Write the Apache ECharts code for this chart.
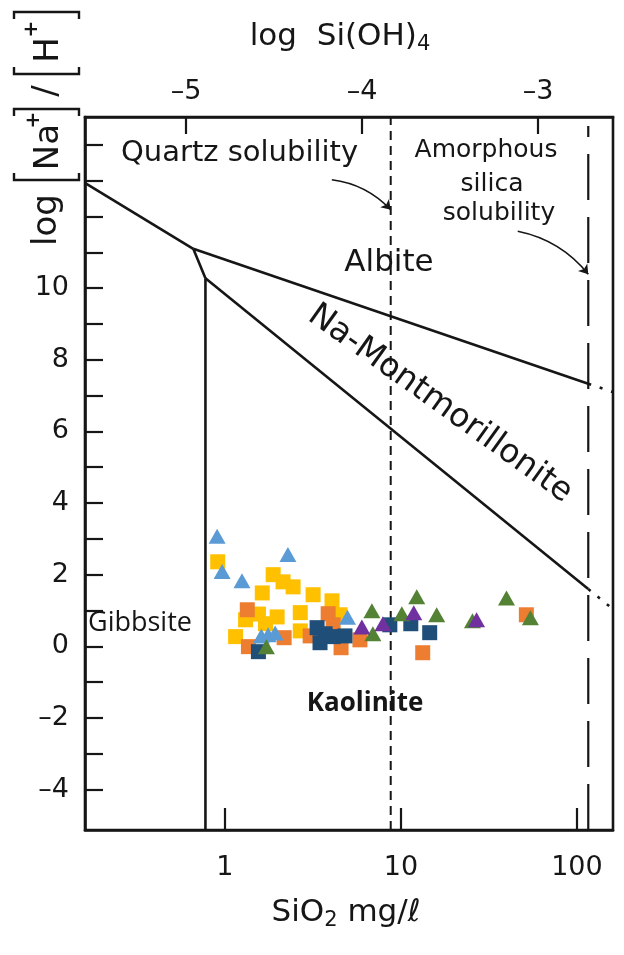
<!DOCTYPE html>
<html>
<head>
<meta charset="utf-8">
<script src="https://cdn.jsdelivr.net/npm/echarts@6/dist/echarts.min.js"></script>
<style>
  html, body { margin: 0; padding: 0; background: #ffffff; }
  #chart { width: 624px; height: 955px; }
</style>
</head>
<body>
<div id="chart"></div>
<script>
// Extents: x is log10(SiO2 mg/l), y is log([Na+]/[H+])
const xLogMin = -0.795;
const xLogMax = 2.205;
const yMin = -5.13;
const yMax = 14.78;
// log10 of (1 mg/l SiO2 expressed in mol/l), links the two x scales
const mgToLogMolar = -4.779;

const bottomTickValues = [1, 10, 100];
const topTickValues = [-5, -4, -3];
const yTickValues = [-4, -3, -2, -1, 0, 1, 2, 3, 4, 5, 6, 7, 8, 9, 10, 11, 12, 13, 14];
const yLabelValues = [-4, -2, 0, 2, 4, 6, 8, 10];

// Phase boundaries as [SiO2 mg/l, log(Na+/H+)]
const gibbsiteAlbite = [[0.160, 12.94], [0.661, 11.10]];
const albiteMontmorillonite = [[0.661, 11.10], [116, 7.33]];
const gibbsiteMontmorillonite = [[0.661, 11.10], [0.775, 10.28]];
const montmorilloniteKaolinite = [[0.775, 10.28], [116, 1.60]];
const gibbsiteKaolinite = [[0.775, 10.28], [0.775, -5.13]];
const albiteExtension = [[116, 7.33], [160, 7.10]];
const kaoliniteExtension = [[116, 1.60], [160, 1.04]];

// Silica saturation limits (SiO2 mg/l)
const quartzSolubility = 8.75;
const amorphousSolubility = 116;

// Pointer arrows for the two solubility notes
const quartzArrow = [[4.05, 13.03], [8.75, 12.19]];
const amorphousArrow = [[46.1, 11.59], [116, 10.39]];

// Water samples: [SiO2 mg/l, log(Na+/H+)]
const yellowSquares = [[0.91, 2.36], [1.88, 2.00], [2.14, 1.80], [2.44, 1.66], [1.63, 1.49], [3.17, 1.44],
  [4.06, 1.27], [1.31, 0.74], [1.98, 0.82], [1.70, 0.63], [1.15, 0.27], [2.68, 0.94], [2.68, 0.43],
  [4.51, 0.88], [1.55, 0.90]];
const orangeSquares = [[1.34, 1.02], [1.36, -0.01], [2.17, 0.24], [3.86, 0.91], [4.12, 0.60], [3.05, 0.29],
  [4.57, -0.04], [5.85, 0.18], [13.3, -0.18], [51.6, 0.88]];
const navySquares = [[1.55, -0.15], [3.34, 0.52], [3.71, 0.35], [3.47, 0.10], [4.12, 0.27], [4.81, 0.29],
  [8.65, 0.60], [11.38, 0.63], [14.57, 0.38]];
const blueTriangles = [[0.903, 3.07], [2.28, 2.56], [0.964, 2.09], [1.25, 1.83], [1.61, 0.29], [1.76, 0.32],
  [1.93, 0.37], [4.97, 0.81]];
const greenTriangles = [[1.72, -0.01], [6.84, 0.99], [6.93, 0.35], [10.12, 0.91], [12.3, 1.38], [15.97, 0.88],
  [25.5, 0.71], [39.8, 1.35], [54.4, 0.80]];
const purpleTriangles = [[6.0, 0.54], [7.9, 0.63], [11.83, 0.94], [26.9, 0.74]];

const INK = '#161616';
const FONT = 'DejaVu Sans';

const toLog = pts => pts.map(p => [Math.log10(p[0]), p[1]]);
const enDash = v => String(v).replace('-', '\u2013');

function boundary(pts, opts) {
  return Object.assign({
    type: 'line', data: toLog(pts), symbol: 'none', silent: true, z: 3,
    lineStyle: { color: INK, width: 2.6 }
  }, opts || {});
}

function samples(pts, shape, color, size, z) {
  return {
    type: 'scatter', data: toLog(pts), symbol: shape, symbolSize: size, z: z,
    itemStyle: { color: color, opacity: 1 }
  };
}

function pointer(pts) {
  return {
    type: 'lines', coordinateSystem: 'cartesian2d', silent: true, z: 4,
    symbol: ['none', 'arrow'], symbolSize: 9,
    lineStyle: { color: INK, width: 1.6, curveness: 0.18, opacity: 1 },
    data: [{ coords: toLog(pts) }]
  };
}

const chart = echarts.init(document.getElementById('chart'), null, { renderer: 'canvas' });

const axisText = { color: INK, fontFamily: FONT, fontSize: 27 };

chart.setOption({
  animation: false,
  backgroundColor: '#ffffff',
  grid: { left: 85, right: 11, top: 117, bottom: 125, show: true, borderColor: INK, borderWidth: 2.6 },
  xAxis: [
    {
      type: 'value', position: 'bottom', min: xLogMin, max: xLogMax,
      axisLine: { show: true, onZero: false, lineStyle: { color: INK, width: 2.6 } },
      axisTick: { show: true, inside: true, length: 22, lineStyle: { color: INK, width: 2.2 },
        customValues: bottomTickValues.map(Math.log10) },
      axisLabel: Object.assign({ margin: 24, customValues: bottomTickValues.map(Math.log10),
        formatter: v => String(Math.round(Math.pow(10, v))) }, axisText),
      splitLine: { show: false }
    },
    {
      type: 'value', position: 'top', min: xLogMin + mgToLogMolar, max: xLogMax + mgToLogMolar,
      axisLine: { show: true, onZero: false, lineStyle: { color: INK, width: 2.6 } },
      axisTick: { show: true, inside: true, length: 17, lineStyle: { color: INK, width: 2.2 },
        customValues: topTickValues },
      axisLabel: Object.assign({ margin: 12, customValues: topTickValues,
        formatter: v => enDash(Math.round(v)) }, axisText),
      splitLine: { show: false }
    }
  ],
  yAxis: {
    type: 'value', min: yMin, max: yMax,
    axisLine: { show: true, onZero: false, lineStyle: { color: INK, width: 2.6 } },
    axisTick: { show: true, inside: true, length: 18, lineStyle: { color: INK, width: 2.2 },
      customValues: yTickValues },
    axisLabel: Object.assign({ margin: 16, customValues: yLabelValues,
      formatter: v => enDash(Math.round(v)) }, axisText),
    splitLine: { show: false }
  },
  series: [
    boundary(gibbsiteAlbite),
    boundary(albiteMontmorillonite),
    boundary(gibbsiteMontmorillonite),
    boundary(montmorilloniteKaolinite),
    boundary(gibbsiteKaolinite),
    boundary(albiteExtension, { lineStyle: { color: INK, width: 2.6, type: [3, 9] } }),
    boundary(kaoliniteExtension, { lineStyle: { color: INK, width: 2.6, type: [3, 9] } }),
    boundary([[quartzSolubility, yMin], [quartzSolubility, yMax]],
      { lineStyle: { color: INK, width: 2, type: [9, 6] } }),
    boundary([[amorphousSolubility, yMin], [amorphousSolubility, yMax - 0.25]],
      { lineStyle: { color: INK, width: 2.2, type: [46, 17] } }),
    pointer(quartzArrow),
    pointer(amorphousArrow),
    samples(yellowSquares, 'rect', '#FFC000', 15, 10),
    samples(orangeSquares, 'rect', '#ED7D31', 15, 11),
    samples(navySquares, 'rect', '#1F4E79', 15, 12),
    samples(blueTriangles, 'triangle', '#5B9BD5', [17, 15], 13),
    samples(greenTriangles, 'triangle', '#548235', [17, 15], 14),
    samples(purpleTriangles, 'triangle', '#7030A0', [17, 15], 15)
  ],
  graphic: [
    // top axis title
    { type: 'text', x: 340, y: 37, z: 20, style: {
      text: '{m|log  Si(OH)}{s|4}', textAlign: 'center', textVerticalAlign: 'middle', fill: INK,
      rich: { m: { fontFamily: FONT, fontSize: 31, lineHeight: 36, fill: INK },
              s: { fontFamily: FONT, fontSize: 21, lineHeight: 14, verticalAlign: 'bottom', fill: INK } } } },
    // bottom axis title
    { type: 'text', x: 346, y: 913, z: 20, style: {
      text: '{m|SiO}{s|2}{m| mg/\u2113}', textAlign: 'center', textVerticalAlign: 'middle', fill: INK,
      rich: { m: { fontFamily: FONT, fontSize: 31, lineHeight: 36, fill: INK },
              s: { fontFamily: FONT, fontSize: 21, lineHeight: 14, verticalAlign: 'bottom', fill: INK } } } },
    // vertical axis title, read bottom to top
    { type: 'group', x: 46, y: 131, rotation: Math.PI / 2, z: 20, children: [
      { type: 'text', x: -89, y: 1, style: { text: 'log', font: '34px "DejaVu Sans"', fill: INK, textAlign: 'center', textVerticalAlign: 'middle' } },
      { type: 'polyline', shape: { points: [[-42, -32], [-49, -32], [-49, 33], [-42, 33]] }, style: { stroke: INK, lineWidth: 2.4, fill: null } },
      { type: 'text', x: -16, y: 3, style: { text: 'Na', font: '34px "DejaVu Sans"', fill: INK, textAlign: 'center', textVerticalAlign: 'middle' } },
      { type: 'text', x: 11, y: -12, style: { text: '+', font: 'bold 20px "DejaVu Sans"', fill: INK, textAlign: 'center', textVerticalAlign: 'middle' } },
      { type: 'polyline', shape: { points: [[15, -32], [22, -32], [22, 33], [15, 33]] }, style: { stroke: INK, lineWidth: 2.4, fill: null } },
      { type: 'text', x: 40, y: 1, style: { text: '/', font: '34px "DejaVu Sans"', fill: INK, textAlign: 'center', textVerticalAlign: 'middle' } },
      { type: 'polyline', shape: { points: [[64, -32], [57, -32], [57, 33], [64, 33]] }, style: { stroke: INK, lineWidth: 2.4, fill: null } },
      { type: 'text', x: 81, y: 3, style: { text: 'H', font: '34px "DejaVu Sans"', fill: INK, textAlign: 'center', textVerticalAlign: 'middle' } },
      { type: 'text', x: 102, y: -14, style: { text: '+', font: 'bold 20px "DejaVu Sans"', fill: INK, textAlign: 'center', textVerticalAlign: 'middle' } },
      { type: 'polyline', shape: { points: [[112, -32], [119, -32], [119, 33], [112, 33]] }, style: { stroke: INK, lineWidth: 2.4, fill: null } }
    ] },
    // field and limit annotations
    { type: 'text', x: 121, y: 153, z: 20, style: { text: 'Quartz solubility', font: '29px "DejaVu Sans"', fill: INK, textAlign: 'left', textVerticalAlign: 'middle' } },
    { type: 'text', x: 486, y: 150, z: 20, style: { text: 'Amorphous', font: '25px "DejaVu Sans"', fill: INK, textAlign: 'center', textVerticalAlign: 'middle' } },
    { type: 'text', x: 492, y: 184, z: 20, style: { text: 'silica', font: '25px "DejaVu Sans"', fill: INK, textAlign: 'center', textVerticalAlign: 'middle' } },
    { type: 'text', x: 499, y: 213, z: 20, style: { text: 'solubility', font: '25px "DejaVu Sans"', fill: INK, textAlign: 'center', textVerticalAlign: 'middle' } },
    { type: 'text', x: 389, y: 263, z: 20, style: { text: 'Albite', font: '31px "DejaVu Sans"', fill: INK, textAlign: 'center', textVerticalAlign: 'middle' } },
    { type: 'text', x: 440, y: 404, rotation: -35.6 * Math.PI / 180, z: 20, style: { text: 'Na-Montmorillonite', font: '33px "DejaVu Sans"', fill: INK, textAlign: 'center', textVerticalAlign: 'middle' } },
    { type: 'text', x: 88, y: 623, z: 20, style: { text: 'Gibbsite', font: '27px "Open Sans"', fill: INK, textAlign: 'left', textVerticalAlign: 'middle' } },
    { type: 'text', x: 365, y: 704, z: 20, style: { text: 'Kaolinite', font: 'bold 26px "Open Sans"', fill: INK, textAlign: 'center', textVerticalAlign: 'middle' } }
  ]
});
</script>
</body>
</html>
